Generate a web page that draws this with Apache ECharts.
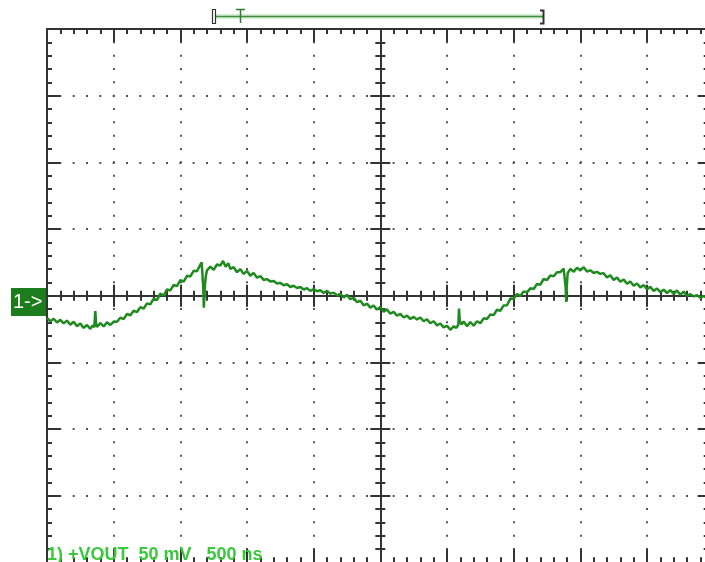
<!DOCTYPE html>
<html>
<head>
<meta charset="utf-8">
<script src="https://cdn.jsdelivr.net/npm/echarts@6/dist/echarts.min.js"></script>
<style>
  html, body { margin: 0; padding: 0; background: #fff; }
  #scope { width: 705px; height: 562px; }
</style>
</head>
<body>
<div id="scope"></div>
<script>
  // time base: 500 ns/div, 10 divisions
  const timeMin = 0, timeMax = 5000, timeDiv = 500;
  // channel 1: 50 mV/div, 8 divisions
  const voltMin = -200, voltMax = 200, voltDiv = 50;

  // +VOUT trace (ns)
  const timeNs = [
    0, 25, 50, 75, 100, 125, 150, 175, 200, 225, 250, 275, 300, 325,
    340, 355, 362, 368, 375, 400, 425, 450, 475, 500,
    525, 550, 575, 600, 625, 650, 675, 700, 725, 750,
    775, 800, 825, 850, 875, 900, 925, 950, 975, 1000,
    1025, 1050, 1075, 1100, 1125, 1150,
    1160, 1168, 1172, 1176, 1180, 1185, 1192, 1200,
    1225, 1250, 1275, 1300, 1320, 1340, 1360, 1375,
    1400, 1425, 1450, 1475, 1500, 1525, 1550, 1575, 1600, 1625,
    1650, 1675, 1700, 1725, 1750, 1775, 1800, 1825, 1850, 1875,
    1900, 1925, 1950, 1975, 2000, 2025, 2050, 2075, 2100, 2125,
    2150, 2175, 2200, 2225, 2250, 2275, 2300, 2325, 2350, 2375,
    2400, 2425, 2450, 2475, 2500, 2525, 2550, 2575, 2600, 2625,
    2650, 2675, 2700, 2725, 2750, 2775, 2800, 2825, 2850, 2875,
    2900, 2925, 2950, 2975, 3000, 3025, 3050,
    3070, 3085, 3090, 3096, 3110,
    3125, 3150, 3175, 3200, 3225, 3250, 3275, 3300, 3325, 3350,
    3375, 3400, 3425, 3450, 3475, 3500, 3525, 3550, 3575, 3600,
    3625, 3650, 3675, 3700, 3725, 3750, 3775, 3800, 3825, 3850,
    3875, 3885, 3890, 3894, 3898, 3905,
    3925, 3950, 3975, 4000, 4025, 4050, 4075, 4100, 4125, 4150,
    4175, 4200, 4225, 4250, 4275, 4300, 4325, 4350, 4375, 4400,
    4425, 4450, 4475, 4500, 4525, 4550, 4575, 4600, 4625, 4650,
    4675, 4700, 4725, 4750, 4775, 4800, 4825, 4850, 4875, 4900, 4925, 4950
  ];
  // mV
  const voutMv = [
    -16.6, -19.3, -17.3, -20.1, -18.1, -20.8, -18.7, -21.8, -19.6, -22.9, -20.8, -24.2, -22.0, -25.0,
    -22.4, -23.6, -11.5, -20.5, -23.4, -20.6, -23.1, -20.0, -22.0, -19.4,
    -19.6, -16.5, -17.6, -13.6, -14.7, -11.3, -12.3, -8.6, -9.6, -5.8,
    -6.5, -2.3, -3.3, 1.5, 0.1, 4.7, 3.9, 8.0, 7.1, 11.6,
    10.5, 14.9, 14.4, 18.6, 18.3, 23.3,
    25.0, 24.2, 6.0, -9.0, -2.0, 8.5, 15.2, 19.0,
    21.8, 19.4, 23.4, 22.6, 26.0, 21.8, 24.3, 20.1,
    21.4, 17.6, 19.9, 16.3, 18.6, 14.9, 17.1, 13.5, 14.6, 11.8,
    12.4, 10.6, 11.0, 9.1, 9.6, 7.8, 8.6, 6.5, 7.4, 5.8,
    6.5, 4.6, 5.6, 3.6, 5.0, 3.3, 4.1, 2.0, 3.6, 1.5,
    2.3, 0.2, 1.4, -1.4, 0.6, -2.6, -1.6, -4.9, -3.8, -7.2,
    -6.0, -9.0, -7.4, -10.5, -8.4, -12.0, -10.3, -13.5, -12.2, -15.1,
    -13.6, -16.4, -15.0, -17.5, -15.9, -17.9, -16.4, -19.2, -17.7, -20.7,
    -19.2, -22.3, -20.9, -23.8, -22.6, -25.6, -23.0,
    -24.2, -21.8, -9.6, -19.0, -21.6,
    -19.4, -22.9, -19.8, -22.5, -19.2, -20.7, -17.0, -17.5, -14.2, -14.5,
    -10.6, -11.3, -7.3, -7.2, -2.2, -2.4, 1.2, -0.2, 3.2, 2.5,
    5.5, 5.0, 8.7, 8.2, 12.5, 11.7, 15.2, 14.5, 17.6, 17.6,
    20.2, 21.5, 6.0, -4.8, 6.5, 16.8,
    20.1, 17.9, 21.0, 18.9, 21.4, 18.1, 19.0, 17.0, 17.8, 16.4,
    16.9, 13.6, 15.3, 11.8, 13.7, 10.4, 12.1, 8.9, 10.6, 7.5,
    9.1, 6.2, 8.0, 4.8, 6.6, 3.6, 5.4, 2.6, 4.5, 2.0,
    4.2, 1.4, 3.9, 0.6, 3.1, -0.2, 1.1, -0.5, 0.4, -1.6, -0.2, -1.9
  ];

  const channelLabel = '1) +VOUT  50 mV   500 ns';
  const markerLabel = '1->';

  const ink = '#333';
  const traceGreen = '#1f8a1f';

  // 一个刻度轴的公共配置
  function scaleAxis(extra) {
    return Object.assign({
      axisLabel: { show: false },
      axisLine: { show: true, onZero: false, lineStyle: { color: ink, width: 2 } },
      axisTick: { show: true, inside: true, length: 13, lineStyle: { color: ink, width: 2 } },
      minorTick: { show: true, splitNumber: 5, length: 5, lineStyle: { color: ink, width: 2 } },
      splitLine: { show: false }
    }, extra);
  }
  const timeScale = { type: 'value', min: timeMin, max: timeMax, interval: timeDiv };
  const voltScale = { type: 'value', min: voltMin, max: voltMax, interval: voltDiv };
  const dotted = { show: true, lineStyle: { color: '#555', width: 2, type: [2, 11.333], dashOffset: 1 } };

  const chart = echarts.init(document.getElementById('scope'));
  const option = {
    animation: false,
    grid: { left: 47, top: 29, width: 666.67, height: 533.33, outerBoundsMode: 'none' },
    xAxis: [
      // bottom edge
      scaleAxis(Object.assign({ position: 'bottom', splitLine: dotted }, timeScale)),
      // top edge
      scaleAxis(Object.assign({ position: 'top' }, timeScale)),
      // centre horizontal, ticks down
      scaleAxis(Object.assign({ position: 'top', offset: -266.67,
        axisTick: { show: true, inside: true, length: 11, lineStyle: { color: ink, width: 2 } } }, timeScale)),
      // centre horizontal, ticks up
      scaleAxis(Object.assign({ position: 'top', offset: -266.67,
        axisTick: { show: true, inside: false, length: 11, lineStyle: { color: ink, width: 2 } } }, timeScale))
    ],
    yAxis: [
      scaleAxis(Object.assign({ position: 'left', splitLine: dotted }, voltScale)),
      scaleAxis(Object.assign({ position: 'right',
        axisTick: { show: true, inside: true, length: 16, lineStyle: { color: ink, width: 2 } },
        minorTick: { show: true, splitNumber: 5, length: 10, lineStyle: { color: ink, width: 2 } } }, voltScale)),
      scaleAxis(Object.assign({ position: 'left', offset: -333.33,
        axisTick: { show: true, inside: true, length: 10, lineStyle: { color: ink, width: 2 } } }, voltScale)),
      scaleAxis(Object.assign({ position: 'left', offset: -333.33,
        axisTick: { show: true, inside: false, length: 10, lineStyle: { color: ink, width: 2 } } }, voltScale))
    ],
    series: [{
      name: '+VOUT',
      type: 'line',
      xAxisIndex: 0,
      yAxisIndex: 0,
      showSymbol: false,
      data: timeNs.map((t, i) => [t, voutMv[i]]),
      lineStyle: { color: traceGreen, width: 2.5 },
      z: 5
    }],
    graphic: [
      // 触发/记录窗口指示条
      { type: 'line', shape: { x1: 214, y1: 16.5, x2: 543, y2: 16.5 }, style: { stroke: '#d4efd4', lineWidth: 5 }, silent: true },
      { type: 'line', shape: { x1: 214, y1: 16.5, x2: 543, y2: 16.5 }, style: { stroke: '#3d8f3d', lineWidth: 1.5 }, silent: true },
      { type: 'rect', shape: { x: 212.5, y: 9.5, width: 3, height: 14 }, style: { stroke: ink, fill: '#fff', lineWidth: 1.2 }, silent: true },
      { type: 'polyline', shape: { points: [[236, 9.5], [245, 9.5]] }, style: { stroke: '#2f7a2f', lineWidth: 1.5 }, silent: true },
      { type: 'line', shape: { x1: 240.5, y1: 9, x2: 240.5, y2: 23 }, style: { stroke: '#2f7a2f', lineWidth: 1.5 }, silent: true },
      { type: 'polyline', shape: { points: [[540, 10.5], [543.5, 10.5], [543.5, 23.5], [540, 23.5]] }, style: { stroke: ink, fill: null, lineWidth: 2 }, silent: true },
      // 通道1 零电平标记
      { type: 'rect', shape: { x: 11, y: 288, width: 36, height: 28 }, style: { fill: '#1d7d1d' }, silent: true },
      { type: 'text', x: 13, y: 302, style: { text: markerLabel, fill: '#fff', font: '20px "Liberation Sans", Arial, sans-serif', verticalAlign: 'middle' }, silent: true },
      // 通道说明
      { type: 'text', x: 47, y: 555, z: 10, style: { text: channelLabel, fill: '#3cc83c', font: 'bold 18px "Liberation Sans", Arial, sans-serif', verticalAlign: 'middle' }, silent: true }
    ]
  };
  chart.setOption(option);
</script>
</body>
</html>
